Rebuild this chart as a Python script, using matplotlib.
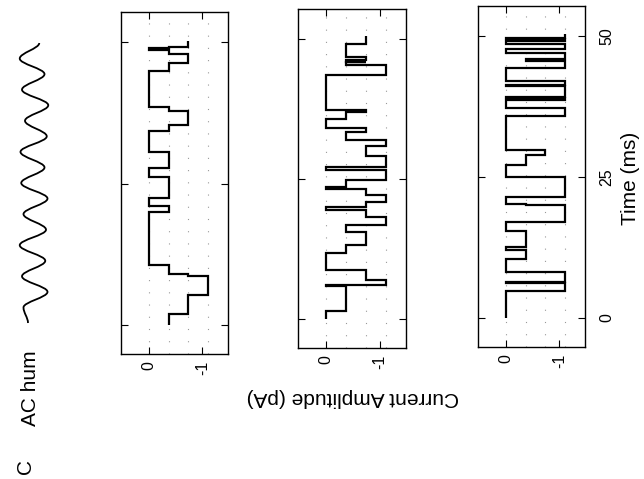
#!/usr/bin/env python3
# -*- coding: utf-8 -*-
"""
Single channel records (sideways figure, panel C): AC hum and three
current traces with time running upwards.
"""

import matplotlib
matplotlib.use("Agg")
import matplotlib.pyplot as plt
from matplotlib.path import Path
from matplotlib.patches import PathPatch

plt.rcParams["font.family"] = ["Liberation Sans", "DejaVu Sans"]

# Current levels (pA) of the sub-conductance states
levels = [0.0, -0.37, -0.74, -1.11]

# Trace 1: dwell boundaries (ms) and state index of each dwell
edges_1 = [0, 1.8, 5.3, 8.6, 9.0, 10.6, 20.0, 21.1, 22.5, 26.1, 27.7, 30.6,
           34.3, 35.3, 37.9, 38.5, 45.0, 46.3, 48.0, 48.7, 49.0, 49.2, 50.3]
state_1 = [1, 2, 3, 2, 1, 0, 1, 0, 1, 0, 1, 0, 1, 2, 1, 0, 1, 2, 1, 0, 1, 2]

# Trace 2
edges_2 = [0, 1.4, 5.8, 6.0, 6.1, 6.9, 8.7, 11.7, 13.2, 15.5, 16.8, 18.2,
           19.4, 20.0, 20.9, 22.2, 23.2, 23.5, 24.8, 26.6, 27.2, 29.2, 30.9,
           32.0, 33.4, 34.2, 35.7, 36.9, 37.4, 43.6, 45.4, 45.9, 46.0, 46.2,
           46.9, 49.2, 50.5]
state_2 = [0, 1, 0, 1, 3, 2, 0, 1, 2, 1, 3, 2, 0, 2, 3, 2, 0, 1, 3, 0, 3, 2,
           3, 1, 2, 0, 1, 2, 0, 3, 1, 2, 1, 2, 1, 2]

# Trace 3
edges_3 = [0, 4.8, 6.1, 6.3, 8.1, 10.5, 12.0, 12.6, 15.5, 17.0, 20.0, 20.2,
           21.5, 25.0, 27.1, 28.9, 29.8, 35.8, 37.2, 38.7, 39.0, 39.3, 41.1,
           41.4, 42.0, 44.4, 45.6, 45.9, 47.1, 47.7, 48.6, 49.2, 49.6, 49.8,
           50.4]
state_3 = [0, 3, 0, 3, 0, 1, 0, 1, 0, 3, 1, 0, 3, 0, 1, 2, 0, 3, 0, 3, 0, 3,
           0, 3, 0, 3, 1, 3, 0, 3, 0, 3, 0, 3]

# AC hum: successive turning points of the wave, top to bottom (arb. units)
hum_extremes = [0.35, -0.95, 0.7, -0.8, 0.95, -0.6, 0.85, -0.9, 0.7, -0.85,
                0.9, -0.7, 0.8, -0.95, 0.75, -0.8, 0.9, -0.7, -0.4]

current_ticks = [0, -1]
current_ticklabels = ["0", "-1"]
time_ticks = [0, 25, 50]
time_ticklabels = ["0", "25", "50"]

W, H = 644, 479


def px_rect(x0, y0, x1, y1):
    """Axes rectangle from pixel box (top-left origin)."""
    return [x0 / W, 1 - y1 / H, (x1 - x0) / W, (y1 - y0) / H]


fig = plt.figure(figsize=(6.44, 4.79), dpi=100)

panels = [
    (px_rect(121, 12, 228, 354), edges_1, state_1),
    (px_rect(298, 9, 406, 348), edges_2, state_2),
    (px_rect(478, 6, 585, 347), edges_3, state_3),
]

for i, (rect, edges, states) in enumerate(panels):
    ax = fig.add_axes(rect)
    for lv in levels:
        ax.axvline(lv, color="0.6", lw=0.8, ls=(0, (1, 10)), zorder=1)
    ax.stairs([levels[s] for s in states], edges, orientation="horizontal",
              baseline=None, color="black", lw=1.6, zorder=3)
    ax.set_xlim(0.52, -1.48)
    ax.set_ylim(-5.2, 55.4)
    ax.set_xticks(current_ticks)
    ax.set_xticklabels(current_ticklabels, rotation=90, fontsize=11.5)
    ax.set_yticks(time_ticks)
    ax.tick_params(direction="in", length=5, width=0.8, top=True, right=True,
                   labelleft=False)
    ax.tick_params(axis="x", pad=5)
    for sp in ax.spines.values():
        sp.set_linewidth(1.0)
    if i == 2:
        ax.tick_params(axis="y", labelright=True, pad=10)
        ax.set_yticklabels(time_ticklabels, rotation=90, fontsize=11.5,
                           va="center")

# AC hum trace
hax = fig.add_axes(px_rect(19, 43, 49, 323))
n = len(hum_extremes)
verts = [(hum_extremes[0], 0)]
codes = [Path.MOVETO]
k = 0.36
for j in range(1, n):
    verts += [(hum_extremes[j - 1], j - 1 + k), (hum_extremes[j], j - k),
              (hum_extremes[j], j)]
    codes += [Path.CURVE4] * 3
hax.add_patch(PathPatch(Path(verts, codes), facecolor="none",
                        edgecolor="black", lw=1.3, clip_on=False))
hax.set_xlim(-1, 1)
hax.set_ylim(n - 1, 0)
hax.axis("off")

# Labels
fig.text(630 / W, 1 - 178 / H, "Time (ms)", rotation=90, fontsize=15,
         ha="center", va="center")
fig.text(353 / W, 1 - 397 / H, "Current Amplitude (pA)", rotation=180,
         fontsize=15, ha="center", va="center")
fig.text(31 / W, 1 - 388 / H, "AC hum", rotation=90, fontsize=15,
         ha="center", va="center")
fig.text(26 / W, 1 - 466 / H, "C", rotation=90, fontsize=15,
         ha="center", va="center")

fig.savefig("out.png", dpi=100)
